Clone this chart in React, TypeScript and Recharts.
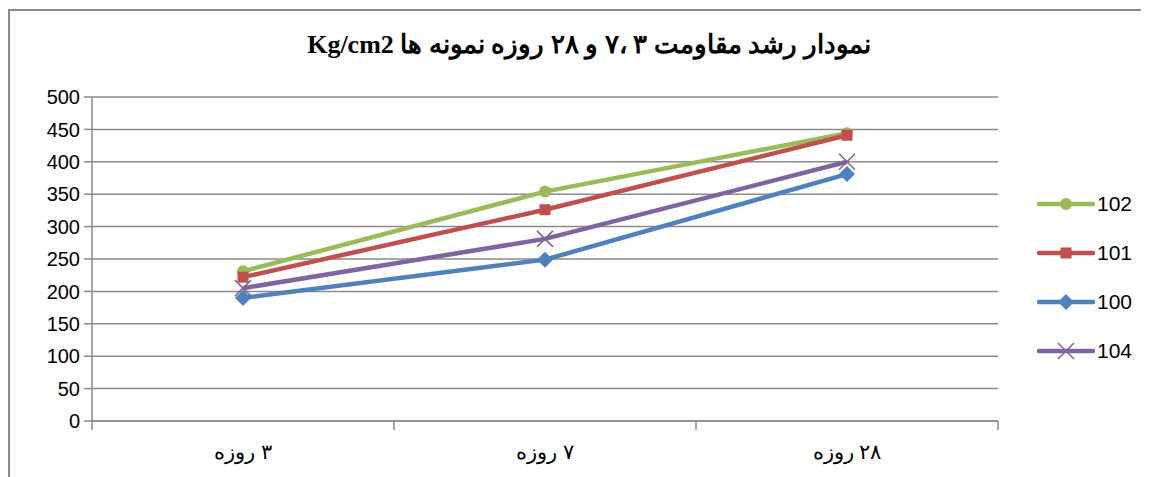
import React from "react";
import { LineChart, Line, XAxis, YAxis, CartesianGrid } from "recharts";

const title = "نمودار رشد مقاومت ۳ ،۷ و ۲۸ روزه  نمونه ها Kg/cm2";
const categories = ["۳ روزه", "۷ روزه", "۲۸ روزه"];
const yTicks = [0, 50, 100, 150, 200, 250, 300, 350, 400, 450, 500];

const s102 = [231, 354, 444];
const s101 = [222, 326, 441];
const s100 = [190, 249, 381];
const s104 = [205, 281, 400];

const series = [
  { key: "s102", name: "102", color: "#9BBB59", shape: "circle" },
  { key: "s101", name: "101", color: "#C0504D", shape: "square" },
  { key: "s100", name: "100", color: "#4F81BD", shape: "diamond" },
  { key: "s104", name: "104", color: "#8064A2", shape: "cross" },
];

const data = categories.map((label, i) => ({
  x: i + 0.5,
  label,
  s102: s102[i],
  s101: s101[i],
  s100: s100[i],
  s104: s104[i],
}));

const xTicks = [0, 0.5, 1, 1.5, 2, 2.5, 3];
const gray = "#8a8a8a";

function Marker({ cx, cy, shape, color }: any) {
  if (cx == null || cy == null) return null;
  if (shape === "circle") return <circle cx={cx} cy={cy} r={6} fill={color} />;
  if (shape === "square")
    return <rect x={cx - 5.5} y={cy - 5.5} width={11} height={11} fill={color} />;
  if (shape === "diamond")
    return (
      <polygon
        points={`${cx},${cy - 8} ${cx + 8},${cy} ${cx},${cy + 8} ${cx - 8},${cy}`}
        fill={color}
      />
    );
  return (
    <g stroke={color} strokeWidth={1.6}>
      <line x1={cx - 8} y1={cy - 8} x2={cx + 8} y2={cy + 8} />
      <line x1={cx - 8} y1={cy + 8} x2={cx + 8} y2={cy - 8} />
    </g>
  );
}

function XTick({ x, y, payload }: any) {
  const v = payload.value;
  if (Number.isInteger(v)) {
    return <line x1={x} y1={y} x2={x} y2={y + 9} stroke={gray} strokeWidth={1.5} />;
  }
  return (
    <text
      x={x}
      y={y + 38}
      textAnchor="middle"
      direction="rtl"
      fontSize={21}
      fontFamily="'Liberation Serif', serif"
      fill="#000"
    >
      {categories[Math.floor(v)]}
    </text>
  );
}

function LegendBox() {
  return (
    <div style={{ position: "absolute", left: 1029, top: 171, width: 110 }}>
      {series.map((s) => (
        <div key={s.key} style={{ display: "flex", alignItems: "center", height: 49 }}>
          <svg width={58} height={20}>
            <line x1={2} y1={10} x2={56} y2={10} stroke={s.color} strokeWidth={4.5} strokeLinecap="round" />
            <Marker cx={29} cy={10} shape={s.shape} color={s.color} />
          </svg>
          <span style={{ fontSize: 21, fontFamily: "'Liberation Sans', sans-serif", marginLeft: 2 }}>
            {s.name}
          </span>
        </div>
      ))}
    </div>
  );
}

export default function App() {
  return (
    <div style={{ position: "relative", width: 1141, height: 469 }}>
      <div
        style={{
          position: "absolute",
          top: 1,
          left: 0,
          right: 0,
          bottom: 0,
          borderTop: `2px solid ${gray}`,
          borderLeft: `2px solid ${gray}`,
        }}
      />
      <div
        dir="rtl"
        style={{
          position: "absolute",
          top: 22,
          left: 0,
          width: 1162,
          textAlign: "center",
          fontSize: 26,
          lineHeight: "30px",
          fontWeight: "bold",
          fontFamily: "'Liberation Serif', serif",
        }}
      >
        {title}
      </div>
      <LineChart
        width={1141}
        height={469}
        data={data}
        margin={{ top: 89, right: 151, bottom: 26, left: 8 }}
        style={{ position: "absolute", top: 0, left: 0 }}
      >
        <CartesianGrid vertical={false} stroke={gray} strokeWidth={1.5} />
        <XAxis
          dataKey="x"
          type="number"
          domain={[0, 3]}
          ticks={xTicks}
          interval={0}
          tickLine={false}
          tickSize={0}
          tickMargin={0}
          tick={<XTick />}
          height={30}
          axisLine={{ stroke: gray, strokeWidth: 1.5 }}
        />
        <YAxis
          domain={[0, 500]}
          ticks={yTicks}
          interval={0}
          width={76}
          tickSize={8}
          tickMargin={4}
          tickLine={{ stroke: gray, strokeWidth: 1.5 }}
          axisLine={{ stroke: gray, strokeWidth: 1.5 }}
          tick={{ fontSize: 20, fill: "#000", fontFamily: "'Liberation Sans', sans-serif" }}
        />
        {series.map((s) => (
          <Line
            key={s.key}
            dataKey={s.key}
            name={s.name}
            stroke={s.color}
            strokeWidth={4.5}
            isAnimationActive={false}
            dot={(p: any) => <Marker key={`${s.key}-${p.index}`} cx={p.cx} cy={p.cy} shape={s.shape} color={s.color} />}
            activeDot={false}
          />
        ))}
      </LineChart>
      <LegendBox />
    </div>
  );
}
